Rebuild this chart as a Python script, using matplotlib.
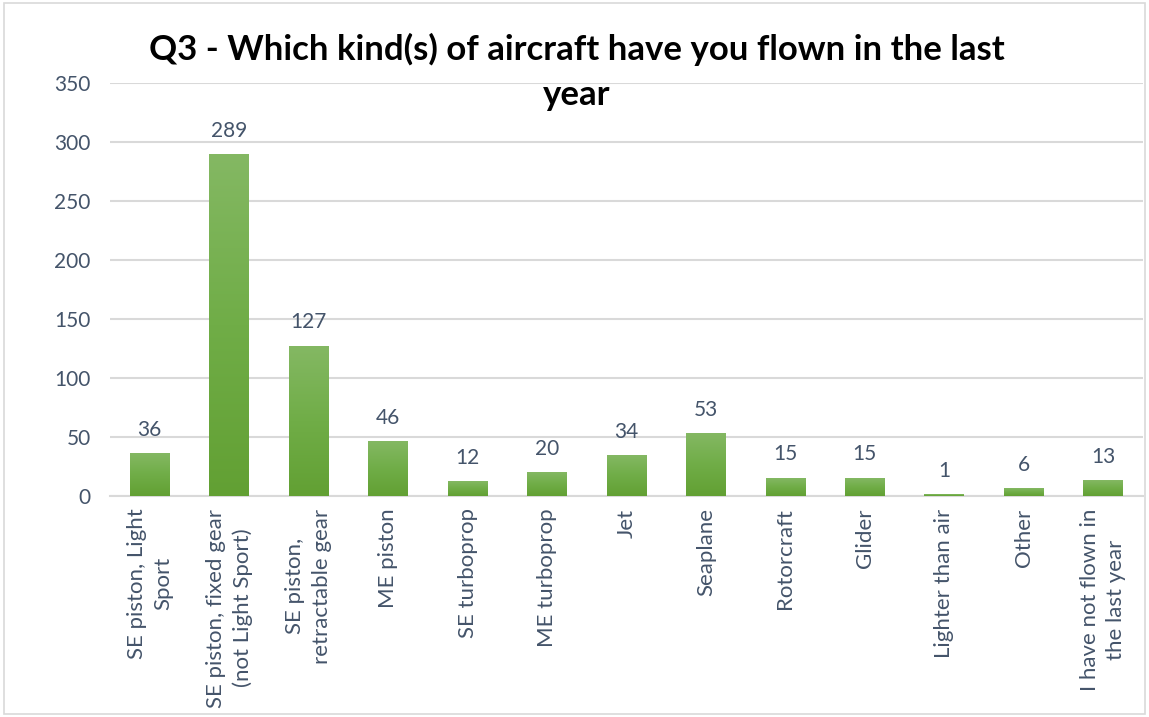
import matplotlib.pyplot as plt
import numpy as np
from matplotlib.colors import LinearSegmentedColormap
from matplotlib.patches import Rectangle

plt.rcParams['font.family'] = ['Lato', 'DejaVu Sans']

title = "Q3 - Which kind(s) of aircraft have you flown in the last\nyear"
categories = [
    "SE piston, Light\nSport",
    "SE piston, fixed gear\n(not Light Sport)",
    "SE piston,\nretractable gear",
    "ME piston",
    "SE turboprop",
    "ME turboprop",
    "Jet",
    "Seaplane",
    "Rotorcraft",
    "Glider",
    "Lighter than air",
    "Other",
    "I have not flown in\nthe last year",
]
counts = [36, 289, 127, 46, 12, 20, 34, 53, 15, 15, 1, 6, 13]
y_ticks = [0, 50, 100, 150, 200, 250, 300, 350]

text_color = '#44546A'
grid_color = '#D9D9D9'
# vertical green fill, darker at the base
green = LinearSegmentedColormap.from_list('green_fill', ['#62A033', '#70AD47', '#84B863'])

fig = plt.figure(figsize=(11.49, 7.17), dpi=100)
ax = fig.add_axes([110 / 1149, 1 - 496 / 717, 1033 / 1149, 413 / 717])

x = np.arange(len(categories))
bar_w = 0.5
grad = np.linspace(0, 1, 256).reshape(-1, 1)
for xi, val in zip(x, counts):
    ax.imshow(grad, cmap=green, origin='lower', aspect='auto',
              extent=(xi - bar_w / 2, xi + bar_w / 2, 0, val), zorder=3)
    ax.annotate(str(val), (xi, val), xytext=(0, 10), textcoords='offset points',
                ha='center', va='bottom', fontsize=15, color=text_color)

ax.set_xlim(-0.5, len(categories) - 0.5)
ax.set_ylim(0, 350)
ax.set_yticks(y_ticks)
ax.set_xticks(x)
ax.set_xticklabels(categories, rotation=90, ha='center', va='top',
                   multialignment='center', fontsize=16, color=text_color,
                   linespacing=1.4)
ax.tick_params(axis='y', length=0, pad=14, labelsize=15, labelcolor=text_color)
ax.tick_params(axis='x', length=0, pad=9)

ax.grid(axis='y', color=grid_color, linewidth=1.5, zorder=0)
ax.set_axisbelow(True)
for side in ['top', 'right', 'left']:
    ax.spines[side].set_visible(False)
ax.spines['bottom'].set_color(grid_color)
ax.spines['bottom'].set_linewidth(1.5)

fig.text(577 / 1149, 1 - 33 / 717, title, ha='center', va='top',
         fontsize=25, fontweight='bold', color='black', linespacing=1.5)

# light frame around the whole chart
fig.patches.append(Rectangle((4 / 1149, 3 / 717), 1141 / 1149, 711 / 717,
                             transform=fig.transFigure, fill=False,
                             edgecolor=grid_color, linewidth=1.2))

fig.savefig('out.png', dpi=100)
